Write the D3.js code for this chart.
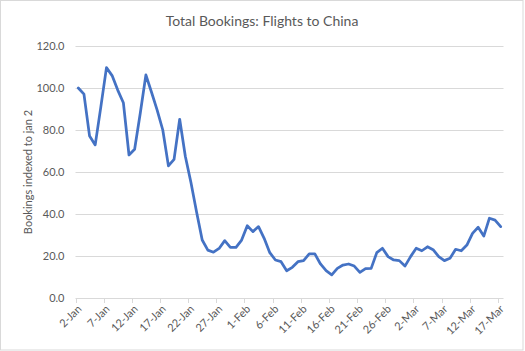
<!DOCTYPE html>
<html>
<head>
<meta charset="utf-8">
<script src="https://cdn.jsdelivr.net/npm/d3@7"></script>
<style>
  html, body { margin: 0; padding: 0; background: #fff; }
  svg { display: block; }
  text { font-family: Lato, "Open Sans", sans-serif; fill: #595959; }
</style>
</head>
<body>
<svg id="chart" width="525" height="351"></svg>
<script>
// ---- data ----
const title = "Total Bookings: Flights to China";
const yAxisTitle = "Bookings indexed to jan 2";
const startDate = new Date(2020, 0, 2);
const endDate = new Date(2020, 2, 18); // exclusive
const bookings = [
  100, 97.1, 77.1, 72.9, 91, 109.7, 105.9, 99, 93, 68.1,
  70.8, 88, 106.2, 98, 89.5, 80, 62.9, 66, 85.1, 67.5,
  55, 41, 27.6, 22.8, 21.8, 23.6, 27.3, 24.1, 24.1, 27.6,
  34.4, 31.6, 34, 28.4, 21.6, 18.1, 17.3, 13, 14.6, 17.3,
  17.8, 21, 21, 16.2, 13, 11, 14.1, 15.7, 16.2, 15.2,
  12.2, 14, 14.1, 21.6, 23.7, 19.7, 18.1, 17.8, 15.2, 19.7,
  23.7, 22.5, 24.4, 23, 19.7, 17.8, 18.9, 23.2, 22.5, 25.2,
  30.8, 33.7, 29.5, 38, 37.1, 34
];
const yTicks = [0, 20, 40, 60, 80, 100, 120];
const xTickLabels = ["2-Jan","7-Jan","12-Jan","17-Jan","22-Jan","27-Jan","1-Feb","6-Feb","11-Feb","16-Feb","21-Feb","26-Feb","2-Mar","7-Mar","12-Mar","17-Mar"];

const dates = d3.timeDay.range(startDate, endDate);
const data = dates.map((d, i) => ({ date: d, value: bookings[i] }));

// ---- layout ----
const svg = d3.select("#chart");
const plotL = 75.5, plotR = 503.5, plotT = 46, plotB = 298;

svg.append("rect")
  .attr("x", 0.5).attr("y", 0.5).attr("width", 522.5).attr("height", 349.5)
  .attr("fill", "#fff").attr("stroke", "#d9d9d9").attr("stroke-width", 1);

const x = d3.scaleBand().domain(d3.range(data.length)).range([plotL, plotR]).padding(0);
const y = d3.scaleLinear().domain([0, 120]).range([plotB, plotT]);

// gridlines
svg.append("g").selectAll("line").data(yTicks.filter(t => t > 0)).join("line")
  .attr("x1", plotL).attr("x2", plotR)
  .attr("y1", d => Math.round(y(d)) + 0.5).attr("y2", d => Math.round(y(d)) + 0.5)
  .attr("stroke", "#d9d9d9").attr("stroke-width", 1);

// y axis labels
const yAxis = d3.axisLeft(y).tickValues(yTicks).tickFormat(d3.format(".1f")).tickSize(0).tickPadding(0);
const gy = svg.append("g").attr("transform", `translate(${plotL - 11},0)`).call(yAxis);
gy.select(".domain").remove();
gy.selectAll("text").style("font-size", "11px").attr("fill", "#595959")
  .style("font-family", "Lato, sans-serif");

// x axis
const tickIdx = d3.range(0, data.length, 5);
const xAxisG = svg.append("g");
xAxisG.append("line")
  .attr("x1", plotL).attr("x2", plotR)
  .attr("y1", Math.round(plotB) + 0.5).attr("y2", Math.round(plotB) + 0.5)
  .attr("stroke", "#d9d9d9").attr("stroke-width", 1);
xAxisG.selectAll("line.tick").data(tickIdx).join("line").attr("class", "tick")
  .attr("x1", d => Math.round(x(d)) + 0.5).attr("x2", d => Math.round(x(d)) + 0.5)
  .attr("y1", plotB).attr("y2", plotB + 5)
  .attr("stroke", "#d9d9d9").attr("stroke-width", 1);
xAxisG.selectAll("text").data(tickIdx).join("text")
  .attr("transform", d => `translate(${x(d) + 4},${plotB + 9}) rotate(-45)`)
  .attr("text-anchor", "end")
  .attr("dy", "0.35em")
  .style("font-size", "11px")
  .text((d, i) => xTickLabels[i]);

// line
const line = d3.line()
  .x((d, i) => x(i) + x.bandwidth() / 2)
  .y(d => y(d.value));
svg.append("path").datum(data)
  .attr("d", line)
  .attr("fill", "none")
  .attr("stroke", "#4472C4")
  .attr("stroke-width", 2.75)
  .attr("stroke-linejoin", "round")
  .attr("stroke-linecap", "round");

// title
svg.append("text").attr("x", 262).attr("y", 25.5).attr("text-anchor", "middle")
  .style("font-size", "14px").text(title);

// y axis title
svg.append("text")
  .attr("transform", `translate(28,${(plotT + plotB) / 2}) rotate(-90)`)
  .attr("text-anchor", "middle")
  .attr("dy", "0.35em")
  .style("font-size", "11px")
  .text(yAxisTitle);
</script>
</body>
</html>
